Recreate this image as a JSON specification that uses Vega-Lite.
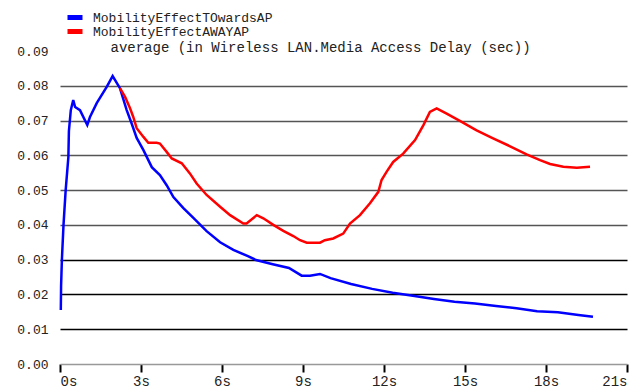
{
  "$schema": "https://vega.github.io/schema/vega-lite/v6.json",
  "width": 567,
  "height": 313,
  "autosize": {"type": "none"},
  "padding": {"left": 60, "top": 51, "right": 17, "bottom": 28},
  "background": "white",
  "config": {
    "view": {"stroke": null},
    "font": "Liberation Mono"
  },
  "datasets": {
    "series": [
      {"s": "MobilityEffectTOwardsAP", "t": 0.03, "v": 0.0155},
      {"s": "MobilityEffectTOwardsAP", "t": 0.04, "v": 0.0224},
      {"s": "MobilityEffectTOwardsAP", "t": 0.07, "v": 0.030},
      {"s": "MobilityEffectTOwardsAP", "t": 0.13, "v": 0.040},
      {"s": "MobilityEffectTOwardsAP", "t": 0.21, "v": 0.050},
      {"s": "MobilityEffectTOwardsAP", "t": 0.31, "v": 0.0595},
      {"s": "MobilityEffectTOwardsAP", "t": 0.33, "v": 0.067},
      {"s": "MobilityEffectTOwardsAP", "t": 0.40, "v": 0.073},
      {"s": "MobilityEffectTOwardsAP", "t": 0.49, "v": 0.0759},
      {"s": "MobilityEffectTOwardsAP", "t": 0.56, "v": 0.0739},
      {"s": "MobilityEffectTOwardsAP", "t": 0.74, "v": 0.073},
      {"s": "MobilityEffectTOwardsAP", "t": 1.01, "v": 0.0687},
      {"s": "MobilityEffectTOwardsAP", "t": 1.11, "v": 0.071},
      {"s": "MobilityEffectTOwardsAP", "t": 1.36, "v": 0.075},
      {"s": "MobilityEffectTOwardsAP", "t": 1.73, "v": 0.0797},
      {"s": "MobilityEffectTOwardsAP", "t": 1.95, "v": 0.0828},
      {"s": "MobilityEffectTOwardsAP", "t": 2.22, "v": 0.0793},
      {"s": "MobilityEffectTOwardsAP", "t": 2.47, "v": 0.073},
      {"s": "MobilityEffectTOwardsAP", "t": 2.66, "v": 0.069},
      {"s": "MobilityEffectTOwardsAP", "t": 2.84, "v": 0.065},
      {"s": "MobilityEffectTOwardsAP", "t": 3.09, "v": 0.0615},
      {"s": "MobilityEffectTOwardsAP", "t": 3.40, "v": 0.0566},
      {"s": "MobilityEffectTOwardsAP", "t": 3.70, "v": 0.0543},
      {"s": "MobilityEffectTOwardsAP", "t": 3.95, "v": 0.0514},
      {"s": "MobilityEffectTOwardsAP", "t": 4.20, "v": 0.048},
      {"s": "MobilityEffectTOwardsAP", "t": 4.57, "v": 0.0448},
      {"s": "MobilityEffectTOwardsAP", "t": 4.94, "v": 0.042},
      {"s": "MobilityEffectTOwardsAP", "t": 5.43, "v": 0.0382},
      {"s": "MobilityEffectTOwardsAP", "t": 5.93, "v": 0.035},
      {"s": "MobilityEffectTOwardsAP", "t": 6.42, "v": 0.0328},
      {"s": "MobilityEffectTOwardsAP", "t": 6.96, "v": 0.031},
      {"s": "MobilityEffectTOwardsAP", "t": 7.26, "v": 0.0299},
      {"s": "MobilityEffectTOwardsAP", "t": 7.88, "v": 0.0287},
      {"s": "MobilityEffectTOwardsAP", "t": 8.48, "v": 0.0276},
      {"s": "MobilityEffectTOwardsAP", "t": 8.95, "v": 0.0254},
      {"s": "MobilityEffectTOwardsAP", "t": 9.26, "v": 0.0254},
      {"s": "MobilityEffectTOwardsAP", "t": 9.63, "v": 0.0259},
      {"s": "MobilityEffectTOwardsAP", "t": 10.02, "v": 0.0247},
      {"s": "MobilityEffectTOwardsAP", "t": 10.78, "v": 0.023},
      {"s": "MobilityEffectTOwardsAP", "t": 11.56, "v": 0.0216},
      {"s": "MobilityEffectTOwardsAP", "t": 12.32, "v": 0.0205},
      {"s": "MobilityEffectTOwardsAP", "t": 13.07, "v": 0.0196},
      {"s": "MobilityEffectTOwardsAP", "t": 13.85, "v": 0.0187},
      {"s": "MobilityEffectTOwardsAP", "t": 14.61, "v": 0.0179},
      {"s": "MobilityEffectTOwardsAP", "t": 15.37, "v": 0.0174},
      {"s": "MobilityEffectTOwardsAP", "t": 16.15, "v": 0.0167},
      {"s": "MobilityEffectTOwardsAP", "t": 16.91, "v": 0.016},
      {"s": "MobilityEffectTOwardsAP", "t": 17.67, "v": 0.0152},
      {"s": "MobilityEffectTOwardsAP", "t": 18.44, "v": 0.0149},
      {"s": "MobilityEffectTOwardsAP", "t": 19.20, "v": 0.0141},
      {"s": "MobilityEffectTOwardsAP", "t": 19.74, "v": 0.0136},
      {"s": "MobilityEffectAWAYAP", "t": 2.22, "v": 0.0793},
      {"s": "MobilityEffectAWAYAP", "t": 2.41, "v": 0.0768},
      {"s": "MobilityEffectAWAYAP", "t": 2.59, "v": 0.0736},
      {"s": "MobilityEffectAWAYAP", "t": 2.71, "v": 0.0711},
      {"s": "MobilityEffectAWAYAP", "t": 2.84, "v": 0.0678},
      {"s": "MobilityEffectAWAYAP", "t": 3.09, "v": 0.0653},
      {"s": "MobilityEffectAWAYAP", "t": 3.27, "v": 0.0636},
      {"s": "MobilityEffectAWAYAP", "t": 3.58, "v": 0.0636},
      {"s": "MobilityEffectAWAYAP", "t": 3.70, "v": 0.0634},
      {"s": "MobilityEffectAWAYAP", "t": 3.95, "v": 0.061},
      {"s": "MobilityEffectAWAYAP", "t": 4.14, "v": 0.0591},
      {"s": "MobilityEffectAWAYAP", "t": 4.51, "v": 0.0577},
      {"s": "MobilityEffectAWAYAP", "t": 4.81, "v": 0.0548},
      {"s": "MobilityEffectAWAYAP", "t": 5.06, "v": 0.0519},
      {"s": "MobilityEffectAWAYAP", "t": 5.43, "v": 0.0486},
      {"s": "MobilityEffectAWAYAP", "t": 5.93, "v": 0.0452},
      {"s": "MobilityEffectAWAYAP", "t": 6.30, "v": 0.0428},
      {"s": "MobilityEffectAWAYAP", "t": 6.79, "v": 0.0404},
      {"s": "MobilityEffectAWAYAP", "t": 6.91, "v": 0.0404},
      {"s": "MobilityEffectAWAYAP", "t": 7.29, "v": 0.0428},
      {"s": "MobilityEffectAWAYAP", "t": 7.53, "v": 0.0419},
      {"s": "MobilityEffectAWAYAP", "t": 7.90, "v": 0.040},
      {"s": "MobilityEffectAWAYAP", "t": 8.27, "v": 0.0383},
      {"s": "MobilityEffectAWAYAP", "t": 8.64, "v": 0.0368},
      {"s": "MobilityEffectAWAYAP", "t": 8.89, "v": 0.0356},
      {"s": "MobilityEffectAWAYAP", "t": 9.14, "v": 0.0349},
      {"s": "MobilityEffectAWAYAP", "t": 9.63, "v": 0.0349},
      {"s": "MobilityEffectAWAYAP", "t": 9.81, "v": 0.0356},
      {"s": "MobilityEffectAWAYAP", "t": 10.12, "v": 0.0361},
      {"s": "MobilityEffectAWAYAP", "t": 10.49, "v": 0.0375},
      {"s": "MobilityEffectAWAYAP", "t": 10.74, "v": 0.0404},
      {"s": "MobilityEffectAWAYAP", "t": 11.11, "v": 0.0428},
      {"s": "MobilityEffectAWAYAP", "t": 11.48, "v": 0.0462},
      {"s": "MobilityEffectAWAYAP", "t": 11.79, "v": 0.0495},
      {"s": "MobilityEffectAWAYAP", "t": 11.91, "v": 0.0529},
      {"s": "MobilityEffectAWAYAP", "t": 12.10, "v": 0.0553},
      {"s": "MobilityEffectAWAYAP", "t": 12.34, "v": 0.0581},
      {"s": "MobilityEffectAWAYAP", "t": 12.71, "v": 0.0605},
      {"s": "MobilityEffectAWAYAP", "t": 13.15, "v": 0.0644},
      {"s": "MobilityEffectAWAYAP", "t": 13.46, "v": 0.0687},
      {"s": "MobilityEffectAWAYAP", "t": 13.70, "v": 0.0725},
      {"s": "MobilityEffectAWAYAP", "t": 13.95, "v": 0.0735},
      {"s": "MobilityEffectAWAYAP", "t": 14.32, "v": 0.072},
      {"s": "MobilityEffectAWAYAP", "t": 14.81, "v": 0.0699},
      {"s": "MobilityEffectAWAYAP", "t": 15.43, "v": 0.0672},
      {"s": "MobilityEffectAWAYAP", "t": 16.04, "v": 0.0649},
      {"s": "MobilityEffectAWAYAP", "t": 16.67, "v": 0.0626},
      {"s": "MobilityEffectAWAYAP", "t": 17.28, "v": 0.0603},
      {"s": "MobilityEffectAWAYAP", "t": 17.78, "v": 0.0586},
      {"s": "MobilityEffectAWAYAP", "t": 18.15, "v": 0.0575},
      {"s": "MobilityEffectAWAYAP", "t": 18.64, "v": 0.0567},
      {"s": "MobilityEffectAWAYAP", "t": 19.14, "v": 0.0564},
      {"s": "MobilityEffectAWAYAP", "t": 19.63, "v": 0.0567}
    ]
  },
  "layer": [
    {
      "mark": {"type": "rule", "color": "#999", "strokeWidth": 1.5},
      "encoding": {"x": {"datum": 21, "type": "quantitative", "scale": {"domain": [0, 21]}}}
    },
    {
      "data": {"name": "series"},
      "mark": {"type": "line", "strokeWidth": 2.5, "interpolate": "linear"},
      "encoding": {
        "x": {
          "field": "t",
          "type": "quantitative",
          "scale": {"domain": [0, 21], "nice": false, "zero": false},
          "axis": {
            "title": null,
            "values": [0, 3, 6, 9, 12, 15, 18, 21],
            "labelExpr": "datum.value + 's'",
            "grid": false,
            "domainColor": "#999",
            "domainWidth": 1.5,
            "tickColor": "#000",
            "tickWidth": 2,
            "tickSize": 8,
            "labelPadding": 2,
            "labelFont": "Liberation Mono",
            "labelFontSize": 14,
            "labelColor": "#222"
          }
        },
        "y": {
          "field": "v",
          "type": "quantitative",
          "scale": {"domain": [0, 0.09], "nice": false},
          "axis": {
            "title": "average (in Wireless LAN.Media Access Delay (sec))",
            "titleAngle": 0,
            "titleX": 50,
            "titleY": -4,
            "titleAlign": "left",
            "titleBaseline": "middle",
            "titleFont": "Liberation Mono",
            "titleFontSize": 14,
            "titleFontWeight": "normal",
            "titleColor": "#222",
            "values": [0, 0.01, 0.02, 0.03, 0.04, 0.05, 0.06, 0.07, 0.08, 0.09],
            "format": ".2f",
            "domain": false,
            "ticks": false,
            "labelPadding": 12,
            "labelFont": "Liberation Mono",
            "labelFontSize": 13,
            "labelColor": "#222",
            "grid": true,
            "gridColor": {"condition": {"test": "datum.value <= 0.035", "value": "#000"}, "value": "#555"},
            "gridOpacity": {"condition": {"test": "datum.value > 0.085 || datum.value < 0.005", "value": 0}, "value": 1},
            "gridWidth": 1.5
          }
        },
        "color": {
          "field": "s",
          "type": "nominal",
          "scale": {"domain": ["MobilityEffectTOwardsAP", "MobilityEffectAWAYAP"], "range": ["#0000ff", "#ff0000"]},
          "legend": {
            "title": null,
            "orient": "none",
            "legendX": 5,
            "legendY": -40,
            "direction": "vertical",
            "symbolType": "stroke",
            "symbolSize": 225,
            "symbolStrokeWidth": 5,
            "clipHeight": 13,
            "labelFont": "Liberation Mono",
            "labelFontSize": 13,
            "labelColor": "#222",
            "labelOffset": 8,
            "labelLimit": 400,
            "rowPadding": 0
          }
        }
      }
    }
  ]
}
